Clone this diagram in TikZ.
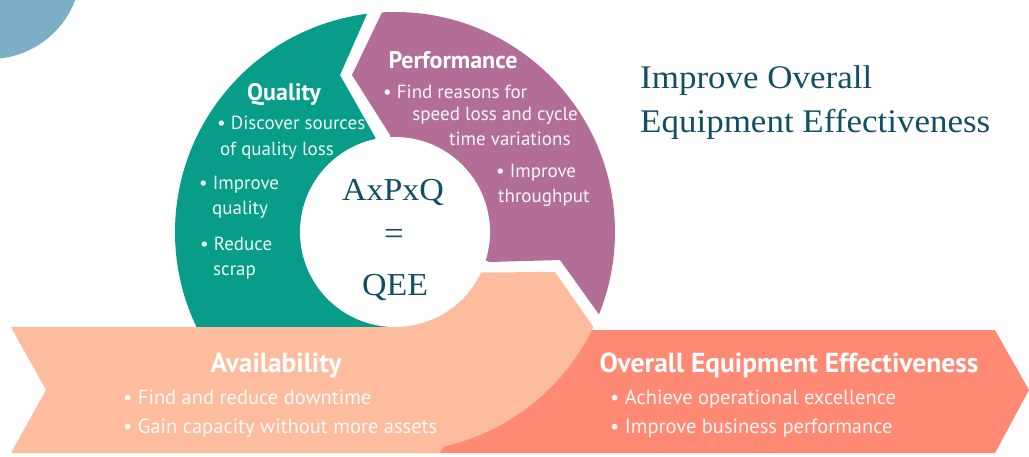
\documentclass[tikz,border=0pt]{standalone}
\usepackage{fontspec}
\setmainfont{PT Sans}
\newfontfamily\serifface[FakeStretch=1.06]{Liberation Serif}
\usetikzlibrary{calc}
\definecolor{dotblue}{RGB}{124,174,197}
\definecolor{qteal}{RGB}{7,157,137}
\definecolor{pmauve}{RGB}{178,110,150}
\definecolor{apeach}{RGB}{253,188,158}
\definecolor{osalmon}{RGB}{255,137,115}
\definecolor{inkteal}{RGB}{17,80,98}

\begin{document}
\begin{tikzpicture}[x=1pt, y=1pt,
	head/.style={text=white, font=\bfseries\fontsize{24}{28}\selectfont, anchor=base, inner sep=0pt},
	bandhead/.style={head, font=\bfseries\fontsize{27.5}{32}\selectfont},
	item/.style={text=white, text opacity=.93, font=\fontsize{19}{22}\selectfont, anchor=base west, inner sep=0pt},
	banditem/.style={item, font=\fontsize{20.5}{24}\selectfont},
	serifbig/.style={text=inkteal, font=\serifface\fontsize{33}{38}\selectfont, inner sep=0pt}]
	\useasboundingbox (0,0) rectangle (1029,-456);
	\coordinate (c) at (395,-232);
	\fill[dotblue] (-10,32) circle[radius=91pt];
	\fill[qteal] (c) -- ++(270:220pt) arc[start angle=270, end angle=97.3, radius=220pt] -- (340,-75) -- (375,-137) -- cycle;
	\fill[pmauve] ($(c)+(93.4:220pt)$) arc[start angle=93.4, end angle=-22, radius=220pt] -- (560,-260) -- (490,-262) -- (c) -- (390,-135) -- (352,-75) -- cycle;
	\fill[osalmon] (420,-330) -- (995,-330) -- (1029,-390) -- (995,-453) -- (420,-453) -- cycle;
	\fill[apeach] (11,-327) -- (448,-327) -- (476,-390) -- (440,-453) -- (11,-453) -- (46,-390) -- cycle;
	\fill[apeach] (395,-273) -- (555,-272) -- ($(c)+(-25.6:220pt)$) arc[start angle=-25.6, end angle=-90, radius=220pt] -- cycle;
	\fill[white] (c) circle[radius=95pt];

	\node[serifbig, anchor=base, font=\serifface\fontsize{32}{36}\selectfont] (axpxq) at (393,-200) {AxPxQ};
	\node[serifbig] (eq) at (394,-237) {=};
	\node[serifbig, anchor=base, font=\serifface\fontsize{32}{36}\selectfont] (qee) at (395,-295) {QEE};
	\node[serifbig, anchor=base west] (title1) at (640,-88) {Improve Overall};
	\node[serifbig, anchor=base west] (title2) at (640,-132) {Equipment Effectiveness};

	\node[head] (quality) at (284,-100) {Quality};
	\node[item] (q1) at (217,-129) {• Discover sources};
	\node[item] (q1b) at (220,-155) {of quality loss};
	\node[item] (q2) at (199,-189) {• Improve};
	\node[item] (q2b) at (212,-214) {quality};
	\node[item] (q3) at (200,-250) {• Reduce};
	\node[item] (q3b) at (213,-275) {scrap};

	\node[head] (perf) at (453,-68) {Performance};
	\node[item] (p1) at (383,-98) {• Find reasons for};
	\node[item, anchor=base east] (p1b) at (578,-120) {speed loss and cycle};
	\node[item] (p1c) at (449,-145) {time variations};
	\node[item] (p2) at (496,-177) {• Improve};
	\node[item] (p2b) at (498,-202) {throughput};

	\node[bandhead] (avail) at (276,-372) {Availability};
	\node[banditem] (a1) at (123,-404) {• Find and reduce downtime};
	\node[banditem] (a2) at (123,-433) {• Gain capacity without more assets};

	\node[bandhead] (oee) at (789,-372) {Overall Equipment Effectiveness};
	\node[banditem] (o1) at (610,-404) {• Achieve operational excellence};
	\node[banditem] (o2) at (610,-433) {• Improve business performance};
\end{tikzpicture}
\end{document}
